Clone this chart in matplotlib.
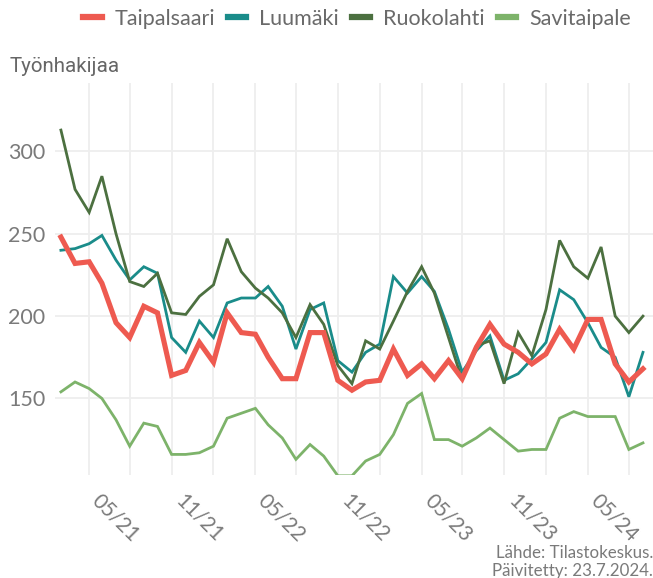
import pandas as pd
import matplotlib.pyplot as plt
import matplotlib.dates as mdates
from matplotlib.lines import Line2D
from matplotlib.transforms import ScaledTranslation

# Monthly job seekers, 12/2020 - 06/2024
months = pd.date_range("2020-12-01", periods=43, freq="MS")

taipalsaari = [248, 232, 233, 220, 196, 187, 206, 202, 164, 167,
               184, 172, 202, 190, 189, 175, 162, 162, 190, 190,
               161, 155, 160, 161, 180, 164, 171, 162, 173, 162,
               181, 195, 183, 178, 171, 177, 192, 180, 198, 198,
               171, 160, 168]
luumaki = [240, 241, 244, 249, 234, 222, 230, 226, 187, 178,
           197, 187, 208, 211, 211, 218, 206, 180, 204, 208,
           173, 166, 178, 183, 224, 214, 224, 215, 192, 166,
           179, 188, 161, 165, 174, 184, 216, 210, 196, 181,
           175, 151, 178]
ruokolahti = [313, 277, 263, 285, 250, 221, 218, 226, 202, 201,
              212, 219, 247, 227, 217, 211, 202, 187, 207, 195,
              170, 159, 185, 180, 197, 215, 230, 214, 187, 161,
              182, 185, 159, 190, 176, 204, 246, 230, 223, 242,
              200, 190, 200]
savitaipale = [154, 160, 156, 150, 137, 121, 135, 133, 116, 116,
               117, 121, 138, 141, 144, 134, 126, 113, 122, 115,
               103, 103, 112, 116, 128, 147, 153, 125, 125, 121,
               126, 132, 125, 118, 119, 119, 138, 142, 139, 139,
               139, 119, 123]

names = ["Taipalsaari", "Luumäki", "Ruokolahti", "Savitaipale"]
colors = ["#EE5A50", "#1A8C8A", "#4C7040", "#7DB36A"]
y_ticks = [150, 200, 250, 300]

plt.rcParams["font.family"] = ["Lato", "DejaVu Sans"]
text_gray = "#7A7A7A"

fig = plt.figure(figsize=(6.53, 5.78), dpi=100)
ax = fig.add_axes([55 / 653, 1 - 475 / 578, 598 / 653, 392 / 578])

ax.plot(months, savitaipale, color=colors[3], lw=2.0, solid_joinstyle="miter")
ax.plot(months, luumaki, color=colors[1], lw=2.0, solid_joinstyle="miter")
ax.plot(months, ruokolahti, color=colors[2], lw=2.0, solid_joinstyle="miter")
ax.plot(months, taipalsaari, color=colors[0], lw=3.7, solid_joinstyle="miter")

ax.set_ylim(103.5, 341.6)
ax.set_xlim(months[0] - pd.Timedelta(days=13), months[-1] + pd.Timedelta(days=22))
ax.set_yticks(y_ticks)

ax.xaxis.set_major_locator(mdates.MonthLocator(bymonth=[5, 11]))
ax.xaxis.set_minor_locator(mdates.MonthLocator(bymonth=[2, 8]))
ax.xaxis.set_major_formatter(mdates.DateFormatter("%m/%y"))

for s in ax.spines.values():
    s.set_visible(False)
ax.grid(True, which="both", color="#EEEEEE", lw=1.3)
ax.set_axisbelow(True)
ax.tick_params(which="both", length=0)
ax.tick_params(axis="y", labelsize=15.5, labelcolor=text_gray, pad=7)
ax.tick_params(axis="x", labelsize=15, labelcolor=text_gray, pad=11)

shift = ScaledTranslation(-14 / 100, 0, fig.dpi_scale_trans)
for lab in ax.get_xticklabels():
    lab.set_rotation(-45)
    lab.set_ha("center")
    lab.set_va("top")
    lab.set_transform(lab.get_transform() + shift)

handles = [Line2D([0], [0], color=c, lw=4.5) for c in colors]
leg = fig.legend(handles, names, loc="center", bbox_to_anchor=(357 / 653, 1 - 19 / 578),
                 ncol=4, frameon=False, handlelength=0.85, handletextpad=0.6,
                 columnspacing=0.6, prop={"size": 15.5})
for t in leg.get_texts():
    t.set_color("#6A6A6A")

fig.text(10 / 653, 1 - 67 / 578, "Työnhakijaa", family="Roboto", fontsize=14.8,
         color="#666666", ha="left", va="center")

fig.text(1.0, 1 - 553 / 578, "Lähde: Tilastokeskus.", fontsize=12.2,
         color=text_gray, ha="right", va="center")
fig.text(1.0, 1 - 571 / 578, "Päivitetty: 23.7.2024.", fontsize=12.2,
         color=text_gray, ha="right", va="center")

fig.savefig("out.png", dpi=100)
